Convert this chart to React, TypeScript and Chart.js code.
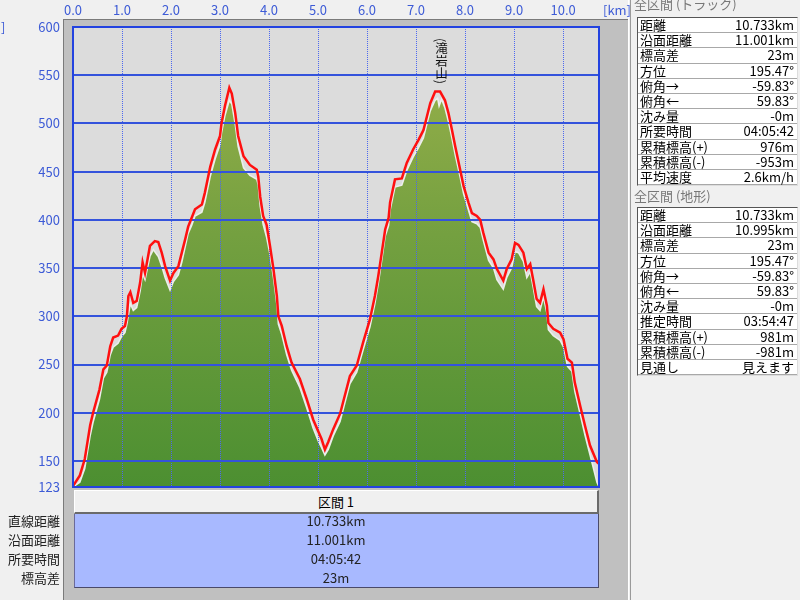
import React, { useEffect, useRef } from "react";
import { Chart, registerables } from "chart.js";
Chart.register(...registerables);

// ---- data ----
const trackKm = [0.0, 0.14, 0.24, 0.35, 0.41, 0.54, 0.62, 0.69, 0.76, 0.82, 0.92, 0.99, 1.06, 1.10, 1.13, 1.17, 1.23, 1.30, 1.37, 1.42, 1.47, 1.52, 1.57, 1.67, 1.74, 1.81, 1.88, 1.98, 2.05, 2.15, 2.22, 2.29, 2.35, 2.42, 2.49, 2.63, 2.69, 2.80, 2.90, 3.00, 3.03, 3.10, 3.19, 3.24, 3.31, 3.37, 3.48, 3.61, 3.75, 3.78, 3.82, 3.88, 3.95, 4.02, 4.09, 4.16, 4.19, 4.26, 4.36, 4.46, 4.63, 4.77, 4.90, 5.01, 5.07, 5.14, 5.21, 5.31, 5.45, 5.65, 5.79, 5.92, 6.06, 6.16, 6.23, 6.30, 6.37, 6.44, 6.47, 6.57, 6.71, 6.81, 6.94, 7.05, 7.15, 7.22, 7.29, 7.39, 7.49, 7.59, 7.66, 7.73, 7.80, 7.90, 7.97, 8.07, 8.14, 8.24, 8.31, 8.37, 8.48, 8.58, 8.65, 8.78, 8.85, 8.95, 9.02, 9.09, 9.19, 9.26, 9.33, 9.39, 9.46, 9.53, 9.60, 9.67, 9.70, 9.80, 9.94, 10.01, 10.09, 10.18, 10.24, 10.35, 10.45, 10.55, 10.69, 10.733];
const trackElev = [124, 135, 152, 187, 200, 224, 245, 249, 269, 278, 280, 287, 290, 300, 321, 325, 314, 316, 335, 356, 345, 359, 373, 378, 377, 366, 352, 337, 345, 352, 366, 380, 393, 402, 411, 416, 428, 455, 473, 487, 500, 518, 537, 531, 511, 487, 466, 457, 452, 445, 424, 404, 395, 373, 349, 321, 300, 290, 269, 252, 235, 214, 193, 180, 173, 162, 170, 183, 199, 238, 249, 273, 297, 321, 342, 366, 390, 402, 418, 442, 443, 459, 473, 483, 493, 507, 521, 533, 533, 524, 511, 494, 476, 452, 435, 418, 407, 404, 400, 387, 366, 359, 349, 337, 349, 359, 376, 374, 366, 349, 354, 338, 318, 314, 328, 311, 293, 287, 283, 276, 256, 252, 231, 207, 186, 166, 149, 147];

const terrainKm = [0.0, 0.14, 0.24, 0.35, 0.41, 0.54, 0.62, 0.69, 0.76, 0.82, 0.92, 0.99, 1.06, 1.10, 1.17, 1.23, 1.30, 1.37, 1.42, 1.47, 1.52, 1.57, 1.64, 1.74, 1.81, 1.88, 1.98, 2.05, 2.15, 2.22, 2.29, 2.35, 2.42, 2.49, 2.63, 2.69, 2.80, 2.90, 3.00, 3.03, 3.10, 3.19, 3.24, 3.31, 3.37, 3.48, 3.61, 3.75, 3.78, 3.82, 3.88, 3.95, 4.02, 4.09, 4.16, 4.19, 4.26, 4.36, 4.46, 4.63, 4.77, 4.90, 5.01, 5.07, 5.14, 5.21, 5.31, 5.45, 5.65, 5.79, 5.92, 6.06, 6.16, 6.23, 6.30, 6.37, 6.44, 6.47, 6.57, 6.71, 6.81, 6.94, 7.05, 7.15, 7.22, 7.29, 7.39, 7.44, 7.47, 7.52, 7.59, 7.66, 7.73, 7.80, 7.90, 7.97, 8.07, 8.14, 8.24, 8.31, 8.37, 8.48, 8.58, 8.65, 8.78, 8.85, 8.95, 9.02, 9.09, 9.19, 9.26, 9.33, 9.39, 9.46, 9.53, 9.60, 9.67, 9.70, 9.80, 9.94, 10.01, 10.09, 10.18, 10.24, 10.35, 10.45, 10.55, 10.63, 10.69, 10.733];
const terrainElev = [123, 128, 142, 176, 190, 214, 236, 242, 260, 268, 272, 279, 283, 292, 313, 306, 309, 326, 344, 338, 350, 362, 369, 362, 352, 340, 327, 336, 343, 356, 372, 386, 394, 404, 408, 418, 445, 463, 478, 490, 508, 524, 520, 499, 476, 454, 446, 442, 436, 414, 395, 382, 364, 340, 312, 292, 281, 260, 244, 226, 205, 184, 170, 164, 156, 162, 176, 191, 230, 242, 265, 289, 313, 334, 358, 383, 394, 410, 434, 436, 451, 465, 475, 485, 499, 513, 524, 526, 518, 525, 516, 502, 485, 467, 444, 427, 410, 398, 396, 392, 379, 358, 350, 338, 328, 340, 350, 367, 366, 357, 340, 346, 330, 310, 306, 320, 303, 286, 280, 275, 268, 248, 243, 222, 198, 176, 156, 140, 128, 123];

const xTicks = [0, 1, 2, 3, 4, 5, 6, 7, 8, 9, 10];
const yTicks = [123, 150, 200, 250, 300, 350, 400, 450, 500, 550, 600];
const xMax = 10.733;

const trackStats = [
  ["距離", "10.733km"],
  ["沿面距離", "11.001km"],
  ["標高差", "23m"],
  ["方位", "195.47°"],
  ["俯角→", "-59.83°"],
  ["俯角←", "59.83°"],
  ["沈み量", "-0m"],
  ["所要時間", "04:05:42"],
  ["累積標高(+)", "976m"],
  ["累積標高(-)", "-953m"],
  ["平均速度", "2.6km/h"],
];
const terrainStats = [
  ["距離", "10.733km"],
  ["沿面距離", "10.995km"],
  ["標高差", "23m"],
  ["方位", "195.47°"],
  ["俯角→", "-59.83°"],
  ["俯角←", "59.83°"],
  ["沈み量", "-0m"],
  ["推定時間", "03:54:47"],
  ["累積標高(+)", "981m"],
  ["累積標高(-)", "-981m"],
  ["見通し", "見えます"],
];
const sectionLabels = ["直線距離", "沿面距離", "所要時間", "標高差"];
const sectionValues = ["10.733km", "11.001km", "04:05:42", "23m"];
const sectionTitle = "区間 1";
const peakLabel = "(滝岩山)";

const FONT = "'Noto Sans CJK JP', 'Noto Sans', sans-serif";
const BLUE_TEXT = "#3d5bd6";

function StatTable({ rows, top }: { rows: string[][]; top: number }) {
  const rowH = 15.2;
  return (
    <div
      style={{
        position: "absolute",
        left: 637,
        top,
        width: 159,
        height: rows.length * rowH,
        background: "#ffffff",
        borderTop: "1px solid #555",
        borderLeft: "1px solid #555",
        borderRight: "1px solid #ddd",
        borderBottom: "1px solid #ddd",
      }}
    >
      {rows.map((r, i) => (
        <div
          key={i}
          style={{
            position: "absolute",
            left: 0,
            top: Math.round(i * rowH),
            width: 159,
            height: Math.round((i + 1) * rowH) - Math.round(i * rowH) - 1,
            borderBottom: "1px solid #a8a8a8",
            fontSize: 13,
            lineHeight: "15px",
            color: "#000",
          }}
        >
          <span style={{ position: "absolute", left: 2, top: -1 }}>{r[0]}</span>
          <span style={{ position: "absolute", right: 3, top: -1 }}>{r[1]}</span>
        </div>
      ))}
    </div>
  );
}

export default function App() {
  const canvasRef = useRef<HTMLCanvasElement | null>(null);

  useEffect(() => {
    const canvas = canvasRef.current;
    if (!canvas) return;

    const framePlugin = {
      id: "framePlugin",
      beforeDraw(chart: any) {
        const { ctx, chartArea: a } = chart;
        ctx.save();
        ctx.fillStyle = "#dcdcdc";
        ctx.fillRect(a.left, a.top, a.right - a.left, a.bottom - a.top);
        ctx.restore();
      },
      afterDatasetDraw(chart: any, args: any) {
        if (args.index === 1) {
          chart.scales.x.drawGrid(chart.chartArea);
          chart.scales.y.drawGrid(chart.chartArea);
        }
      },
      afterDraw(chart: any) {
        const { ctx, chartArea: a } = chart;
        ctx.save();
        ctx.strokeStyle = "#2343e0";
        ctx.lineWidth = 2;
        ctx.strokeRect(a.left, a.top, a.right - a.left, a.bottom - a.top);
        ctx.restore();
      },
    };

    const chart = new Chart(canvas, {
      type: "line",
      data: {
        datasets: [
          {
            label: "track",
            data: trackKm.map((x, i) => ({ x, y: trackElev[i] })),
            borderColor: "#ff1010",
            borderWidth: 2.5,
            pointRadius: 0,
            fill: false,
            tension: 0,
            order: 0,
          },
          {
            label: "terrain",
            data: terrainKm.map((x, i) => ({ x, y: terrainElev[i] })),
            borderColor: "rgba(240,240,240,0.95)",
            borderWidth: 1.5,
            pointRadius: 0,
            fill: "start",
            tension: 0,
            order: 1,
            backgroundColor: (c: any) => {
              const a = c.chart.chartArea;
              if (!a) return "#6c9d3c";
              const g = c.chart.ctx.createLinearGradient(0, a.top, 0, a.bottom);
              g.addColorStop(0, "#9db24c");
              g.addColorStop(0.45, "#74a040");
              g.addColorStop(1, "#4c8f31");
              return g;
            },
          },
        ],
      },
      options: {
        responsive: false,
        animation: false,
        events: [],
        layout: { padding: { left: 0, top: 0, right: 31, bottom: 13 } },
        plugins: { legend: { display: false }, tooltip: { enabled: false } },
        scales: {
          x: {
            type: "linear",
            position: "top",
            min: 0,
            max: xMax,
            afterBuildTicks: (s: any) => {
              s.ticks = xTicks.map((v) => ({ value: v }));
            },
            afterFit: (s: any) => {
              s.height = 27;
              s.paddingLeft = 0;
              s.paddingRight = 0;
            },
            ticks: {
              color: BLUE_TEXT,
              font: { family: FONT, size: 13 },
              padding: 9,
              maxRotation: 0,
              autoSkip: false,
              callback: (v: any) => Number(v).toFixed(1),
            },
            grid: {
              color: "#4c68f0",
              lineWidth: 1,
              drawTicks: false,
              borderDash: [1, 1],
            } as any,
            border: { display: false, dash: [1, 1] },
          },
          y: {
            type: "linear",
            position: "left",
            min: 123,
            max: 600,
            afterBuildTicks: (s: any) => {
              s.ticks = yTicks.map((v) => ({ value: v }));
            },
            afterFit: (s: any) => {
              s.width = 73;
              s.paddingTop = 0;
              s.paddingBottom = 0;
            },
            ticks: {
              color: BLUE_TEXT,
              font: { family: FONT, size: 13 },
              padding: 13,
              autoSkip: false,
              callback: (v: any) => String(v),
            },
            grid: { color: "#3453dc", lineWidth: 2, drawTicks: false },
            border: { display: false },
          },
        },
      },
      plugins: [framePlugin],
    } as any);

    return () => chart.destroy();
  }, []);

  const abs = (s: React.CSSProperties): React.CSSProperties => ({ position: "absolute", ...s });

  return (
    <div
      style={{
        position: "absolute",
        left: 0,
        top: 0,
        width: 800,
        height: 600,
        overflow: "hidden",
        background: "#f0f0f0",
        fontFamily: FONT,
      }}
    >
      {/* gray frame around plot */}
      <div
        style={abs({
          left: 63,
          top: 19,
          width: 565,
          height: 581,
          background: "#c0c0c0",
          borderLeft: "1px solid #7a7a7a",
          borderTop: "1px solid #7a7a7a",
        })}
      />
      <div style={abs({ left: 628, top: 0, width: 1, height: 600, background: "#ffffff" })} />
      <div style={abs({ left: 630, top: 0, width: 1, height: 600, background: "#9a9a9a" })} />

      <canvas ref={canvasRef} width={630} height={500} style={abs({ left: 0, top: 0 })} />

      {/* unit labels */}
      <div style={abs({ left: 603, top: 2, fontSize: 13, lineHeight: "16px", color: BLUE_TEXT })}>[km]</div>
      <div style={abs({ left: 1, top: 19, fontSize: 13, lineHeight: "16px", color: BLUE_TEXT })}>]</div>

      {/* peak label */}
      <div
        style={abs({
          left: 434,
          top: 38,
          width: 14,
          writingMode: "vertical-rl",
          fontSize: 12.5,
          lineHeight: "14px",
          color: "#111",
        })}
      >
        {peakLabel}
      </div>

      {/* bottom section table */}
      <div
        style={abs({
          left: 74,
          top: 490,
          width: 522,
          height: 21,
          background: "#f0f0f0",
          borderTop: "1px solid #ffffff",
          borderLeft: "1px solid #ffffff",
          borderRight: "2px solid #6a6a6a",
          borderBottom: "2px solid #6a6a6a",
          textAlign: "center",
          fontSize: 13,
          lineHeight: "21px",
          color: "#000",
        })}
      >
        {sectionTitle}
      </div>
      <div
        style={abs({
          left: 74,
          top: 514,
          width: 523,
          height: 73,
          background: "#a8b9ff",
          borderRight: "1px solid #4a4a6a",
          borderBottom: "1px solid #4a4a6a",
          borderLeft: "1px solid #6a6a9a",
        })}
      />
      {sectionValues.map((v, i) => (
        <div
          key={"sv" + i}
          style={abs({
            left: 74,
            width: 524,
            top: 513 + i * 19,
            textAlign: "center",
            fontSize: 13,
            lineHeight: "16px",
            color: "#222",
          })}
        >
          {v}
        </div>
      ))}
      {sectionLabels.map((v, i) => (
        <div
          key={"sl" + i}
          style={abs({
            left: 0,
            width: 60,
            top: 513 + i * 19,
            textAlign: "right",
            fontSize: 13,
            lineHeight: "16px",
            color: "#222",
          })}
        >
          {v}
        </div>
      ))}

      {/* right panel */}
      <div style={abs({ left: 634, top: -4, fontSize: 13, lineHeight: "16px", color: "#777" })}>全区間 (トラック)</div>
      <StatTable rows={trackStats} top={17} />
      <div style={abs({ left: 634, top: 188, fontSize: 13, lineHeight: "16px", color: "#777" })}>全区間 (地形)</div>
      <StatTable rows={terrainStats} top={207} />
    </div>
  );
}
